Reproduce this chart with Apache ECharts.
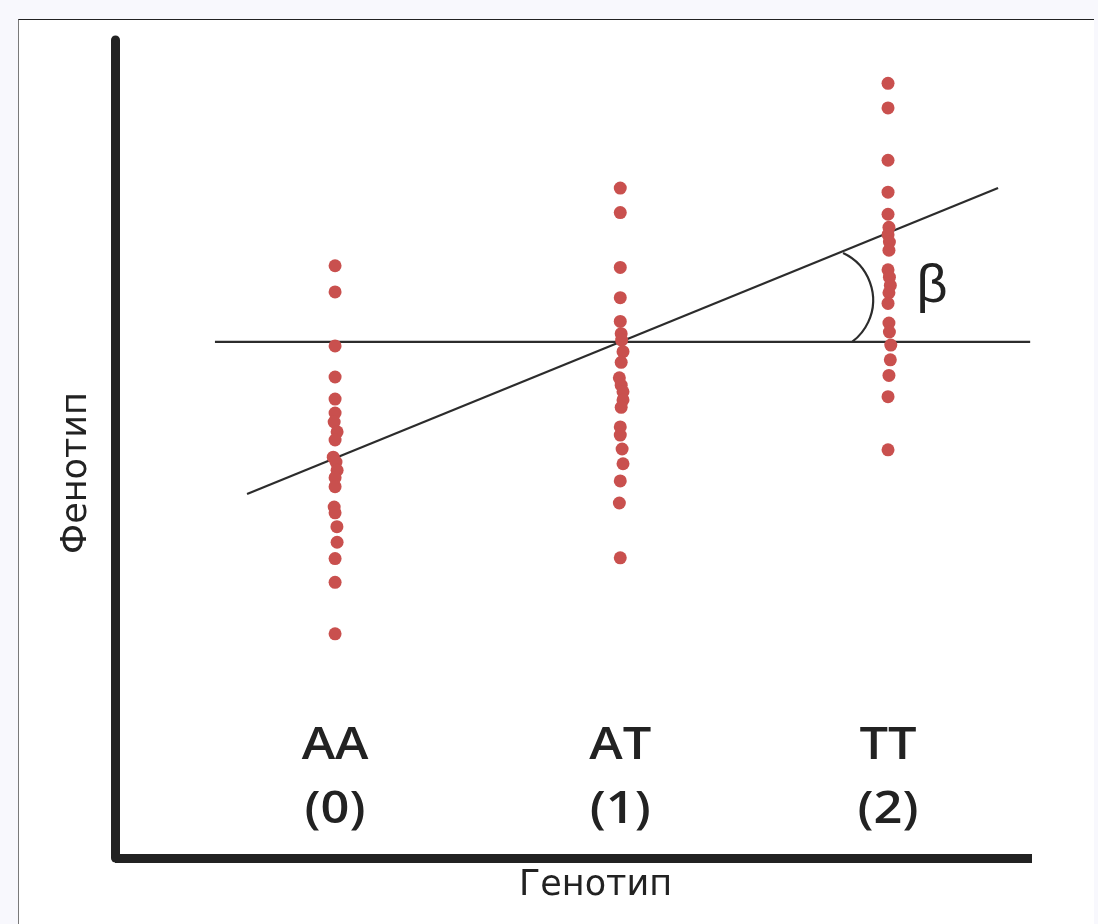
<!DOCTYPE html>
<html><head><meta charset="utf-8">
<script src="https://cdn.jsdelivr.net/npm/echarts@6/dist/echarts.min.js"></script>
<style>
html,body{margin:0;padding:0;background:#f8f8fd;width:1098px;height:924px;overflow:hidden;}
#frame{position:absolute;left:18px;top:19px;width:1076px;height:920px;background:#fff;border-top:1.5px solid #222;border-left:1.5px solid #7a7a7a;box-sizing:border-box;}
#chart{position:absolute;left:0;top:0;width:1098px;height:924px;}
</style></head><body>
<div id="frame"></div><div id="chart"></div>
<script>
// Genotype categories and their horizontal positions (axis units 0..100)
const genotypes = ['AA', 'AT', 'TT'];
const genotypeCodes = ['(0)', '(1)', '(2)'];
const columnX = [24.0, 55.1, 84.3];

// Phenotype values (axis units 0..100)
const aaPhenotype = [72.4, 69.2, 62.6, 58.8, 56.1, 54.4, 53.3, 52.1, 51.1, 49.0, 48.4, 47.4, 46.5, 45.4, 42.9, 42.2, 40.5, 38.6, 36.6, 33.7, 27.4];
const atPhenotype = [81.9, 78.9, 72.2, 68.5, 65.6, 64.1, 63.3, 61.9, 60.6, 58.7, 57.8, 57.0, 56.0, 55.1, 52.7, 51.7, 50.0, 48.2, 46.1, 43.4, 36.7];
const ttPhenotype = [94.7, 91.7, 85.3, 81.4, 78.7, 77.1, 76.2, 75.3, 74.3, 71.9, 71.0, 70.0, 69.1, 67.8, 65.4, 64.3, 62.7, 60.9, 59.0, 56.4, 49.9];

// small horizontal jitter of the dots
const aaJitter = [0, 0, 0, 0, 0, 0, -0.1, 0.22, 0, -0.2, 0.1, 0.22, 0, 0, -0.1, 0, 0.2, 0.22, 0, 0, 0];
const atJitter = [0, 0, 0, 0, 0, 0.1, 0.15, 0.3, 0.1, -0.1, 0.1, 0.3, 0.3, 0.1, 0, 0, 0.2, 0.3, 0, -0.1, 0];
const ttJitter = [0, 0, 0, 0, 0, 0.1, 0, 0.15, 0.1, 0, 0.15, 0.25, 0.1, 0, 0.1, 0.15, 0.3, 0.25, 0.1, 0, 0];

// regression line and reference (mean) line
const fitLine = [[14.4, 44.5], [96.3, 81.9]];
const baseLine = [[10.9, 63.1], [99.8, 63.1]];

// angle marker: centre, radius (x units), angles in degrees
const arcCentre = [77.0, 68.2];
const arcRadius = 5.67;
const arcAngles = [-65, 53];
const betaLabel = { x: 89.1, y: 69.8, text: 'β' };

// genotype label rows (y positions)
const labelRowY = [13.7, 5.9];

const chart = echarts.init(document.getElementById('chart'), null, { renderer: 'canvas' });

function pts(vals, jit, i) {
  return vals.map((v, k) => [columnX[i] + jit[k], v]);
}
const dotColor = '#c9504e';
const dotSeries = [aaPhenotype, atPhenotype, ttPhenotype].map((vals, i) => ({
  type: 'scatter',
  name: genotypes[i],
  data: pts(vals, [aaJitter, atJitter, ttJitter][i], i),
  symbolSize: 13,
  itemStyle: { color: dotColor, opacity: 1 },
  z: 3,
  silent: true
}));

const labelFont = '"Open Sans", "Liberation Sans", sans-serif';
const nameFont = '"DejaVu Sans", "Open Sans", sans-serif';

chart.setOption({
  animation: false,
  backgroundColor: 'transparent',
  grid: { left: 115, right: 66, top: 40, bottom: 66, containLabel: false },
  xAxis: {
    type: 'value', min: 0, max: 100,
    axisLine: { show: true, onZero: false, lineStyle: { color: '#222', width: 9, cap: 'butt' } },
    axisTick: { show: false }, axisLabel: { show: false }, splitLine: { show: false },
    name: 'Генотип', nameLocation: 'middle', nameGap: 10,
    nameTextStyle: { fontSize: 35, color: '#222', fontFamily: nameFont, fontWeight: 'normal', verticalAlign: 'top', padding: [0, 0, 0, 44] }
  },
  yAxis: {
    type: 'value', min: 0, max: 100,
    axisLine: { show: true, onZero: false, lineStyle: { color: '#222', width: 9, cap: 'round' } },
    axisTick: { show: false }, axisLabel: { show: false }, splitLine: { show: false },
    name: 'Фенотип', nameLocation: 'middle', nameGap: 21, nameRotate: 90,
    nameTextStyle: { fontSize: 35, color: '#222', fontFamily: nameFont, fontWeight: 'normal', padding: [0, 48, 0, 0] }
  },
  series: [
    {
      type: 'line', data: baseLine, symbol: 'none', silent: true, z: 2,
      lineStyle: { color: '#2c2c2c', width: 2.2 }
    },
    {
      type: 'line', data: fitLine, symbol: 'none', silent: true, z: 2,
      lineStyle: { color: '#2c2c2c', width: 2.2 }
    },
    ...dotSeries,
    {
      type: 'custom', silent: true, z: 2,
      data: [arcCentre],
      renderItem: function (params, api) {
        const c = api.coord([api.value(0), api.value(1)]);
        const r = api.coord([api.value(0) + arcRadius, api.value(1)])[0] - c[0];
        return {
          type: 'arc',
          shape: { cx: c[0], cy: c[1], r: r, startAngle: arcAngles[0] * Math.PI / 180, endAngle: arcAngles[1] * Math.PI / 180, clockwise: true },
          style: { stroke: '#2c2c2c', lineWidth: 2.2, fill: null }
        };
      }
    },
    {
      type: 'custom', silent: true, z: 4,
      data: [[betaLabel.x, betaLabel.y]],
      renderItem: function (params, api) {
        const c = api.coord([api.value(0), api.value(1)]);
        return {
          type: 'text', x: c[0], y: c[1],
          style: { text: betaLabel.text, fontSize: 54, fontFamily: '"Liberation Sans", sans-serif', fill: '#222', align: 'center', verticalAlign: 'middle' }
        };
      }
    },
    {
      type: 'custom', silent: true, z: 4,
      data: columnX.map((x, i) => [x, i]),
      renderItem: function (params, api) {
        const i = api.value(1);
        const a = api.coord([api.value(0), labelRowY[0]]);
        const b = api.coord([api.value(0), labelRowY[1]]);
        const st = { fontSize: 46, fontFamily: labelFont, fontWeight: 600, fill: '#222', align: 'center', verticalAlign: 'middle' };
        return {
          type: 'group',
          children: [
            { type: 'text', x: a[0], y: a[1], scaleX: 1.1, style: Object.assign({ text: genotypes[i] }, st) },
            { type: 'text', x: b[0], y: b[1], scaleX: 1.1, style: Object.assign({ text: genotypeCodes[i] }, st) }
          ]
        };
      }
    }
  ]
});
</script>
</body></html>
